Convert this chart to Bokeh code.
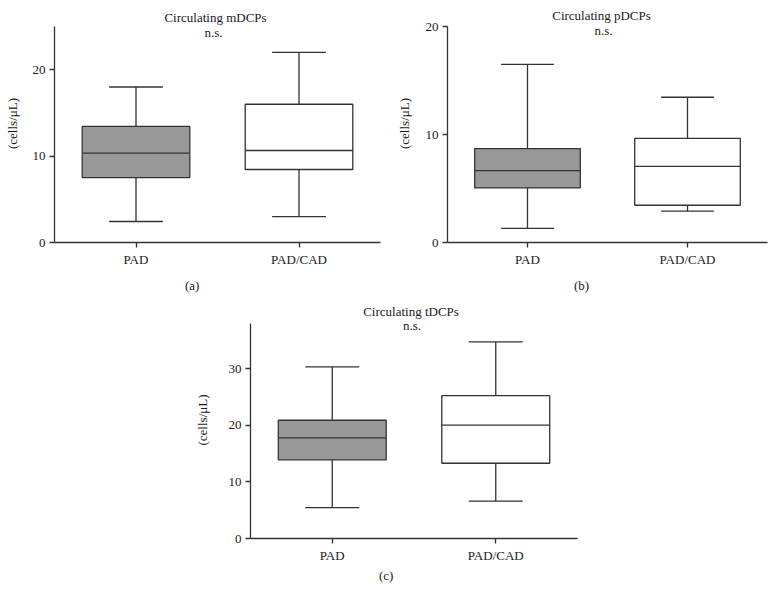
import math
from bokeh.plotting import figure
from bokeh.models import Range1d, FixedTicker, Label, Spacer, Title
from bokeh.layouts import row, column
from bokeh.embed import file_html
from bokeh.resources import INLINE

# ---------------- data ----------------
categories = ["PAD", "PAD/CAD"]
box_fills = ["#999999", "#ffffff"]

mdcp_lower = [2.43, 3.0]
mdcp_q1 = [7.5, 8.45]
mdcp_median = [10.35, 10.65]
mdcp_q3 = [13.45, 16.0]
mdcp_upper = [18.0, 22.0]

pdcp_lower = [1.3, 2.9]
pdcp_q1 = [5.05, 3.45]
pdcp_median = [6.65, 7.05]
pdcp_q3 = [8.7, 9.65]
pdcp_upper = [16.5, 13.45]

tdcp_lower = [5.45, 6.6]
tdcp_q1 = [13.9, 13.3]
tdcp_median = [17.8, 20.05]
tdcp_q3 = [20.9, 25.25]
tdcp_upper = [30.35, 34.75]

FONT = "Liberation Serif"
LINE = "#333333"
TXT = "#1a1a1a"
FS = "13px"


def make_panel(title, tag, lower, q1, med, q3, upper, ymax, yticks,
               width, height, left_b, right_b, top_b, axis_px, pad_px,
               title_off, ns_off, tag_off, tag_standoff, ylab_standoff):
    n = len(categories)
    xs = list(range(n))
    frame_h = axis_px + pad_px
    y_end = ymax * frame_h / axis_px
    bottom_b = height - top_b - frame_h
    p = figure(width=width, height=height,
               x_range=Range1d(-0.5, n - 0.5), y_range=Range1d(0, y_end),
               output_backend="svg", toolbar_location=None,
               min_border_left=left_b, min_border_right=right_b,
               min_border_top=top_b, min_border_bottom=bottom_b)
    p.grid.visible = False
    p.outline_line_color = None
    p.background_fill_color = "white"
    p.border_fill_color = "white"

    hw, cw = 0.33, 0.165
    left = [x - hw for x in xs]
    right = [x + hw for x in xs]
    cl = [x - cw for x in xs]
    cr = [x + cw for x in xs]

    lw = 1.3
    p.segment(x0=xs, y0=q3, x1=xs, y1=upper, line_color=LINE, line_width=lw)
    p.segment(x0=xs, y0=lower, x1=xs, y1=q1, line_color=LINE, line_width=lw)
    p.segment(x0=cl, y0=upper, x1=cr, y1=upper, line_color=LINE, line_width=lw)
    p.segment(x0=cl, y0=lower, x1=cr, y1=lower, line_color=LINE, line_width=lw)
    p.quad(left=left, right=right, bottom=q1, top=q3, fill_color=box_fills,
           line_color=LINE, line_width=lw)
    p.segment(x0=left, y0=med, x1=right, y1=med, line_color=LINE, line_width=lw)

    for ax in (p.xaxis[0], p.yaxis[0]):
        ax.axis_line_color = LINE
        ax.axis_line_width = lw
        ax.major_tick_line_color = LINE
        ax.major_tick_line_width = lw
        ax.major_tick_in = 0
        ax.major_tick_out = 5
        ax.minor_tick_line_color = None
        ax.major_label_text_font = FONT
        ax.major_label_text_font_size = FS
        ax.major_label_text_color = TXT
        ax.major_label_standoff = 4

    p.xaxis.ticker = FixedTicker(ticks=xs)
    p.xaxis.major_label_overrides = {x: c for x, c in zip(xs, categories)}
    p.yaxis.ticker = FixedTicker(ticks=yticks)
    p.yaxis.bounds = (0, ymax)
    p.yaxis.axis_label = "(cells/\u03bcL)"
    p.yaxis.axis_label_text_font = FONT
    p.yaxis.axis_label_text_font_size = FS
    p.yaxis.axis_label_text_font_style = "normal"
    p.yaxis.axis_label_text_color = TXT
    p.yaxis.axis_label_standoff = ylab_standoff

    cx = (n - 1) / 2
    common = dict(text_font=FONT, text_font_size=FS, text_color=TXT,
                  text_align="center", text_baseline="middle")
    p.add_layout(Label(x=cx, y=ymax, x_offset=title_off[0], y_offset=title_off[1],
                       text=title, **common))
    p.add_layout(Label(x=cx, y=ymax, x_offset=ns_off[0], y_offset=ns_off[1],
                       text="n.s.", **common))
    p.add_layout(Title(text=tag, align="left", offset=tag_off,
                       standoff=tag_standoff, text_font=FONT,
                       text_font_size=FS, text_font_style="normal",
                       text_color=TXT), "below")
    return p


pa = make_panel("Circulating mDCPs", "(a)", mdcp_lower, mdcp_q1, mdcp_median,
                mdcp_q3, mdcp_upper, 25, [0, 10, 20],
                393, 298, 54, 13, 4, 216, 22,
                (-2, 9), (-4, -6), 130.5, 12, 10)
pb = make_panel("Circulating pDCPs", "(b)", pdcp_lower, pdcp_q1, pdcp_median,
                pdcp_q3, pdcp_upper, 20, [0, 10, 20],
                381, 298, 49, 7, 4, 216, 22,
                (-6, 11), (-4, -4), 126.5, 12, 11)
pc = make_panel("Circulating tDCPs", "(c)", tdcp_lower, tdcp_q1, tdcp_median,
                tdcp_q3, tdcp_upper, 38, [0, 10, 20, 30],
                399, 290, 62, 10, 3, 215, 22,
                (-3, 12), (-2, -1.5), 128.5, 1, 16)

layout = column(row(pa, pb), row(Spacer(width=188, height=10), pc))

open("out.html", "w").write(file_html(layout, INLINE))
